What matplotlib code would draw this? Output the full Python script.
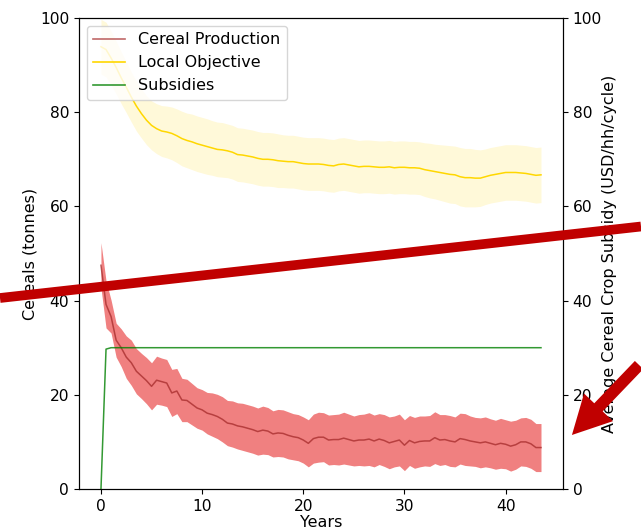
import matplotlib.pyplot as plt
from matplotlib.patches import FancyArrowPatch
from matplotlib.lines import Line2D
import numpy as np

# one value per half year (cycle), 0 .. 43.5
cereal_mean = [
    47.5, 39.2, 36.6, 31.6, 30.0, 28.0, 26.8, 25.0, 24.0, 23.0,
    21.8, 23.1, 22.8, 22.5, 20.4, 20.8, 18.9, 18.8, 18.0, 17.2,
    16.8, 16.1, 15.8, 15.4, 14.8, 14.0, 13.8, 13.4, 13.2, 12.9,
    12.6, 12.2, 12.5, 12.3, 11.7, 11.9, 11.8, 11.4, 11.1, 10.9,
    10.4, 9.7, 10.7, 11.0, 11.0, 10.4, 10.5, 10.5, 10.8, 10.5,
    10.2, 10.4, 10.4, 10.6, 10.2, 10.6, 10.3, 9.8, 10.1, 10.4,
    9.3, 10.3, 9.8, 10.1, 10.2, 10.2, 10.9, 10.4, 10.5, 10.2,
    10.0, 10.7, 10.5, 10.2, 10.0, 9.8, 10.0, 9.7, 9.4, 9.7,
    9.5, 9.1, 9.4, 10.0, 10.0, 9.6, 8.8, 8.8,
]
cereal_sd = [
    4.8, 5.0, 3.5, 3.6, 4.0, 4.5, 4.8, 4.8, 4.8, 4.9,
    5.0, 5.1, 5.0, 5.0, 5.0, 4.8, 4.6, 4.5, 4.4, 4.3,
    4.3, 4.4, 4.6, 4.7, 4.8, 4.8, 4.9, 4.9, 5.0, 5.0,
    5.0, 5.0, 5.1, 5.0, 4.9, 5.0, 5.0, 5.0, 4.9, 4.9,
    4.9, 5.0, 5.2, 5.3, 5.2, 5.3, 5.3, 5.4, 5.5, 5.4,
    5.3, 5.4, 5.5, 5.6, 5.5, 5.4, 5.5, 5.5, 5.4, 5.5,
    5.4, 5.3, 5.4, 5.4, 5.3, 5.4, 5.5, 5.4, 5.3, 5.4,
    5.3, 5.4, 5.5, 5.3, 5.2, 5.3, 5.3, 5.2, 5.2, 5.3,
    5.2, 5.3, 5.2, 5.1, 5.2, 5.2, 5.1, 5.1,
]
objective_mean = [
    93.9, 93.3, 91.5, 89.5, 87.3, 85.3, 83.2, 81.3, 79.7, 78.3,
    77.2, 76.5, 76.0, 75.8, 75.5, 75.0, 74.4, 74.0, 73.7, 73.3,
    73.0, 72.7, 72.4, 72.1, 72.0, 71.8, 71.5, 71.0, 70.9, 70.7,
    70.5, 70.2, 70.0, 70.0, 69.9, 69.7, 69.6, 69.5, 69.5, 69.3,
    69.1, 69.0, 69.0, 69.0, 68.9, 68.7, 68.6, 68.9, 69.0, 68.8,
    68.6, 68.4, 68.5, 68.5, 68.4, 68.3, 68.3, 68.4, 68.2, 68.3,
    68.3, 68.2, 68.2, 68.1, 67.8, 67.6, 67.4, 67.2, 67.0, 66.8,
    66.7, 66.3, 66.1, 66.1, 66.0, 66.0, 66.3, 66.6, 66.8, 67.0,
    67.2, 67.2, 67.2, 67.1, 67.0, 66.8, 66.6, 66.7,
]
objective_sd = [
    5.8, 5.8, 5.7, 5.6, 5.5, 5.4, 5.3, 5.3, 5.2, 5.2,
    5.2, 5.3, 5.4, 5.5, 5.6, 5.7, 5.8, 5.8, 5.9, 5.9,
    5.9, 5.9, 5.8, 5.8, 5.8, 5.7, 5.7, 5.7, 5.7, 5.7,
    5.7, 5.7, 5.7, 5.7, 5.7, 5.7, 5.6, 5.6, 5.6, 5.6,
    5.6, 5.6, 5.6, 5.6, 5.6, 5.6, 5.6, 5.6, 5.6, 5.6,
    5.6, 5.6, 5.6, 5.6, 5.6, 5.6, 5.6, 5.6, 5.6, 5.6,
    5.6, 5.6, 5.6, 5.6, 5.7, 5.8, 5.8, 5.9, 6.0, 6.1,
    6.1, 6.2, 6.2, 6.2, 6.1, 6.0, 5.9, 5.9, 5.9, 5.9,
    5.9, 5.9, 5.9, 5.9, 5.9, 5.9, 5.9, 5.9,
]
subsidy = [0.0, 29.7] + [30.0] * 86

years = np.arange(len(cereal_mean)) * 0.5
cereal_mean = np.array(cereal_mean)
cereal_sd = np.array(cereal_sd)
objective_mean = np.array(objective_mean)
objective_sd = np.array(objective_sd)

fig = plt.figure(figsize=(6.41, 5.29), dpi=100)
ax = fig.add_axes([0.1232, 0.0756, 0.7551, 0.8904])

ax.fill_between(years, cereal_mean - cereal_sd, cereal_mean + cereal_sd,
                color='lightcoral', lw=0)
ax.plot(years, cereal_mean, color='brown', alpha=0.75, lw=1.1)
ax.fill_between(years, objective_mean - objective_sd, objective_mean + objective_sd,
                color='gold', alpha=0.15, lw=0)
ax.plot(years, objective_mean, color='gold', lw=1.1)
ax.set_ylim(0, 100)
ax.set_xlabel('Years', fontsize=11.5, labelpad=1)
ax.set_ylabel('Cereals (tonnes)', fontsize=11.5, labelpad=1.5)
ax.tick_params(labelsize=11.2)

ax2 = ax.twinx()
ax2.plot(years, subsidy, color='green', alpha=0.8, lw=1.1)
ax2.set_ylim(0, 100)
ax2.set_ylabel('Average Cereal Crop Subsidy (USD/hh/cycle)', fontsize=11.5, labelpad=0)
ax2.tick_params(labelsize=11.2)

handles = [
    Line2D([], [], color='brown', alpha=0.7, lw=1.2),
    Line2D([], [], color='gold', lw=1.2),
    Line2D([], [], color='green', alpha=0.8, lw=1.2),
]
ax2.legend(handles, ['Cereal Production', 'Local Objective', 'Subsidies'],
           loc='upper left', fontsize=11.5)

# red marks drawn over the chart
fig.add_artist(Line2D([0, 641], [231, 302.5], transform=None,
                      color='#c00000', lw=7, solid_capstyle='butt'))
fig.add_artist(FancyArrowPatch((641, 166), (570, 92), transform=None,
                               arrowstyle='simple,head_length=2.3,head_width=2.4,tail_width=0.7',
                               mutation_scale=12, color='#c00000', lw=0))

fig.savefig('out.png', dpi=100)
